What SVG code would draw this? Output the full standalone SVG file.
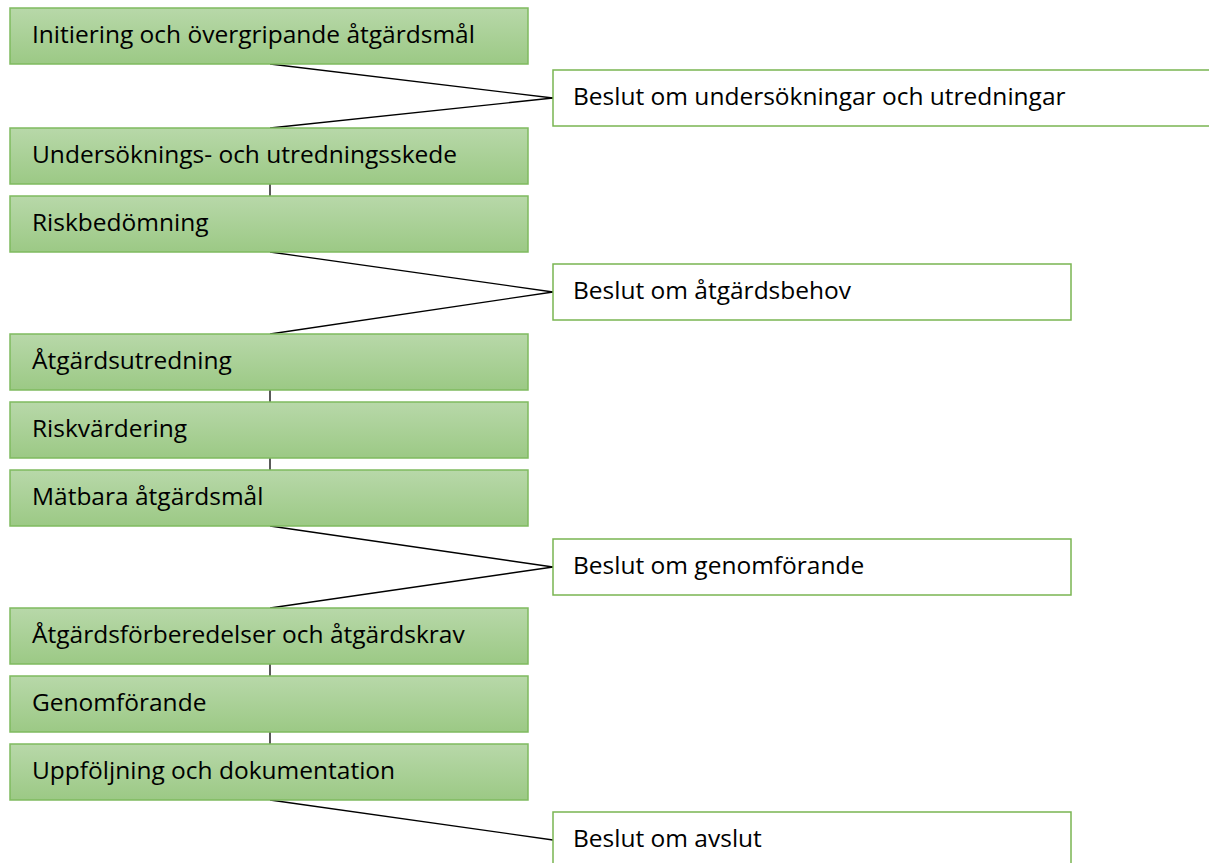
<svg xmlns="http://www.w3.org/2000/svg" width="1209" height="863" viewBox="0 0 1209 863">
<defs>
<linearGradient id="g" x1="0" y1="0" x2="0" y2="1">
<stop offset="0" stop-color="#b8d8a9"/>
<stop offset="1" stop-color="#9cc985"/>
</linearGradient>
</defs>
<style>
.s{fill:url(#g);stroke:#7fba5f;stroke-width:1.5}
.d{fill:#ffffff;stroke:#7ab552;stroke-width:1.5}
text{font-family:"Open Sans","Liberation Sans",sans-serif;font-size:24.5px;fill:#000}
.c line{stroke:#000;stroke-width:1.3}
</style>
<rect width="1209" height="863" fill="#fff"/>
<g class="c" id="connectors">
<line x1="270" y1="64" x2="553" y2="98"/>
<line x1="270" y1="128" x2="553" y2="98"/>
<line x1="270" y1="184" x2="270" y2="196"/>
<line x1="270" y1="252" x2="553" y2="292"/>
<line x1="270" y1="334" x2="553" y2="292"/>
<line x1="270" y1="390" x2="270" y2="402"/>
<line x1="270" y1="458" x2="270" y2="470"/>
<line x1="270" y1="526" x2="553" y2="567"/>
<line x1="270" y1="608" x2="553" y2="567"/>
<line x1="270" y1="664" x2="270" y2="676"/>
<line x1="270" y1="732" x2="270" y2="744"/>
<line x1="270" y1="800" x2="553" y2="840"/>
</g>
<g id="n1"><rect class="s" x="10" y="8" width="518" height="56"/><text x="32" y="43">Initiering och övergripande åtgärdsmål</text></g>
<g id="d1"><rect class="d" x="553" y="70" width="670" height="56"/><text x="573" y="105">Beslut om undersökningar och utredningar</text></g>
<g id="n2"><rect class="s" x="10" y="128" width="518" height="56"/><text x="32" y="163">Undersöknings- och utredningsskede</text></g>
<g id="n3"><rect class="s" x="10" y="196" width="518" height="56"/><text x="32" y="231">Riskbedömning</text></g>
<g id="d2"><rect class="d" x="553" y="264" width="518" height="56"/><text x="573" y="299">Beslut om åtgärdsbehov</text></g>
<g id="n4"><rect class="s" x="10" y="334" width="518" height="56"/><text x="32" y="369">Åtgärdsutredning</text></g>
<g id="n5"><rect class="s" x="10" y="402" width="518" height="56"/><text x="32" y="437">Riskvärdering</text></g>
<g id="n6"><rect class="s" x="10" y="470" width="518" height="56"/><text x="32" y="505">Mätbara åtgärdsmål</text></g>
<g id="d3"><rect class="d" x="553" y="539" width="518" height="56"/><text x="573" y="574">Beslut om genomförande</text></g>
<g id="n7"><rect class="s" x="10" y="608" width="518" height="56"/><text x="32" y="643">Åtgärdsförberedelser och åtgärdskrav</text></g>
<g id="n8"><rect class="s" x="10" y="676" width="518" height="56"/><text x="32" y="711">Genomförande</text></g>
<g id="n9"><rect class="s" x="10" y="744" width="518" height="56"/><text x="32" y="779">Uppföljning och dokumentation</text></g>
<g id="d4"><rect class="d" x="553" y="812" width="518" height="56"/><text x="573" y="847">Beslut om avslut</text></g>
</svg>
